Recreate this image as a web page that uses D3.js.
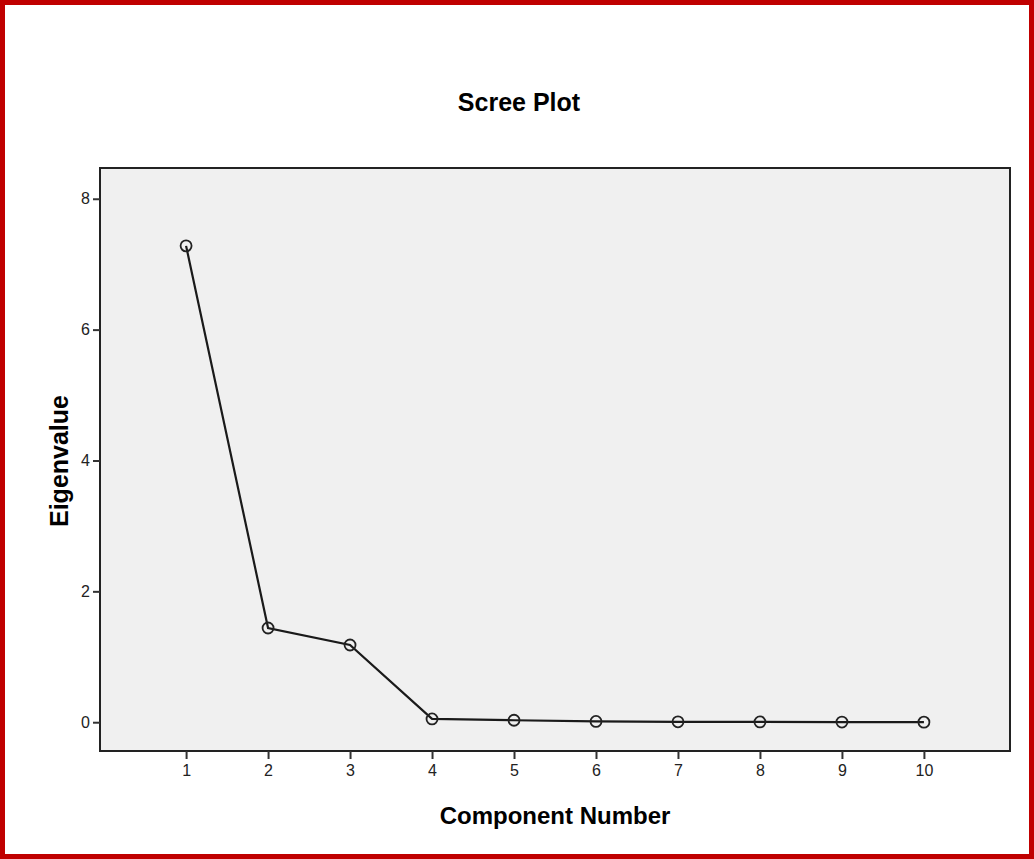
<!DOCTYPE html>
<html>
<head>
<meta charset="utf-8">
<script src="https://cdn.jsdelivr.net/npm/d3@7"></script>
<style>
  body { margin: 0; background: #fff; }
  svg { display: block; font-family: "Liberation Sans", Arial, sans-serif; }
</style>
</head>
<body>
<script>
var components = [1, 2, 3, 4, 5, 6, 7, 8, 9, 10];
var eigenvalues = [7.28, 1.44, 1.18, 0.05, 0.03, 0.012, 0.006, 0.004, 0.002, 0.001];
var yTicks = [0, 2, 4, 6, 8];

var width = 1034, height = 859;
var plotLeft = 100, plotRight = 1010, plotTop = 168, plotBottom = 751;

var svg = d3.select('body').append('svg')
            .attr('width', width)
            .attr('height', height);

// red frame
svg.append('rect')
   .attr('x', 2.5).attr('y', 2.5)
   .attr('width', width - 5).attr('height', height - 5)
   .attr('fill', '#fff')
   .attr('stroke', '#c00000')
   .attr('stroke-width', 5);

var x = d3.scaleLinear().domain([-0.05, 11.05]).range([plotLeft, plotRight]);
var y = d3.scaleLinear().domain([-0.44, 8.47]).range([plotBottom, plotTop]);

svg.append('rect')
   .attr('x', plotLeft).attr('y', plotTop)
   .attr('width', plotRight - plotLeft).attr('height', plotBottom - plotTop)
   .attr('fill', '#f0f0f0')
   .attr('stroke', '#222')
   .attr('stroke-width', 2);

var xAxis = d3.axisBottom(x).tickValues(components).tickSize(8).tickPadding(6);
var yAxis = d3.axisLeft(y).tickValues(yTicks).tickSize(7).tickPadding(3);

var gx = svg.append('g').attr('transform', 'translate(0,' + plotBottom + ')').call(xAxis);
var gy = svg.append('g').attr('transform', 'translate(' + plotLeft + ',0)').call(yAxis);
[gx, gy].forEach(function(g) {
  g.select('.domain').remove();
  g.selectAll('.tick line').attr('stroke', '#333').attr('stroke-width', 2);
  g.selectAll('.tick text').attr('fill', '#222').style('font-size', '16px');
});

var line = d3.line()
             .x(function(d, i) { return x(components[i]); })
             .y(function(d) { return y(d); });

svg.append('path')
   .attr('d', line(eigenvalues))
   .attr('fill', 'none')
   .attr('stroke', '#1a1a1a')
   .attr('stroke-width', 2.2);

svg.selectAll('circle.pt')
   .data(eigenvalues)
   .enter().append('circle')
   .attr('class', 'pt')
   .attr('cx', function(d, i) { return x(components[i]); })
   .attr('cy', function(d) { return y(d); })
   .attr('r', 5.5)
   .attr('fill', 'none')
   .attr('stroke', '#222')
   .attr('stroke-width', 1.8);

svg.append('text')
   .attr('x', 519).attr('y', 111)
   .attr('text-anchor', 'middle')
   .style('font-size', '25px').style('font-weight', 'bold')
   .text('Scree Plot');

svg.append('text')
   .attr('x', 555).attr('y', 824)
   .attr('text-anchor', 'middle')
   .style('font-size', '24px').style('font-weight', 'bold')
   .text('Component Number');

svg.append('text')
   .attr('transform', 'translate(68,461) rotate(-90)')
   .attr('text-anchor', 'middle')
   .style('font-size', '25px').style('font-weight', 'bold')
   .text('Eigenvalue');
</script>
</body>
</html>
